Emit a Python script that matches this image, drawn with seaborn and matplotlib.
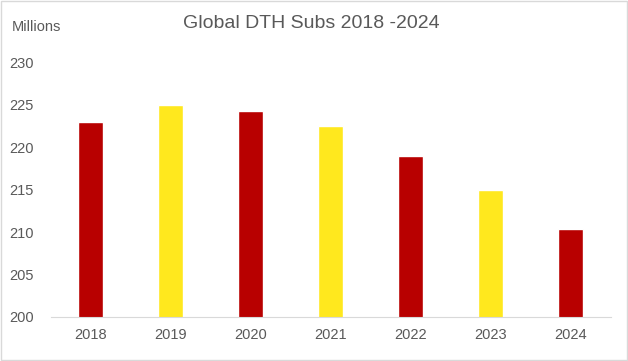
import matplotlib
matplotlib.use('Agg')
import pandas as pd
import seaborn as sns
import matplotlib.pyplot as plt

years = ['2018', '2019', '2020', '2021', '2022', '2023', '2024']
subs = [222.9, 224.9, 224.2, 222.5, 218.9, 214.9, 210.4]
colors = ['#B80000', '#FFE81E', '#B80000', '#FFE81E', '#B80000', '#FFE81E', '#B80000']

df = pd.DataFrame({'year': years, 'subs': subs})

sns.set_style('white')
plt.rcParams['font.family'] = ['Liberation Sans Narrow', 'Liberation Sans', 'DejaVu Sans']

fig = plt.figure(figsize=(6.28, 3.61), dpi=100)
ax = fig.add_axes([0.0805, 0.122, 0.892, 0.706])

sns.barplot(data=df, x='year', y='subs', hue='year', palette=colors,
            width=0.31, legend=False, ax=ax, saturation=1)

ax.set_ylim(200, 230)
ax.set_yticks(range(200, 231, 5))
ax.set_xlabel('')
ax.set_ylabel('')
for s in ['top', 'right', 'left']:
    ax.spines[s].set_visible(False)
ax.spines['bottom'].set_color('#D9D9D9')
ax.tick_params(axis='both', length=0, colors='#595959', labelsize=10.5)
ax.tick_params(axis='x', pad=8)
ax.tick_params(axis='y', pad=12)

fig.text(0.495, 0.935, 'Global DTH Subs 2018 -2024', ha='center', va='center',
         fontsize=14, color='#595959', family=['Liberation Sans', 'DejaVu Sans'])
fig.text(0.019, 0.925, 'Millions', ha='left', va='center', fontsize=10.5,
         color='#595959')

fig.patches.append(plt.Rectangle((0.001, 0.002), 0.997, 0.995, transform=fig.transFigure,
                                 fill=False, edgecolor='#D9D9D9', linewidth=1))

fig.savefig('out.png', dpi=100)
